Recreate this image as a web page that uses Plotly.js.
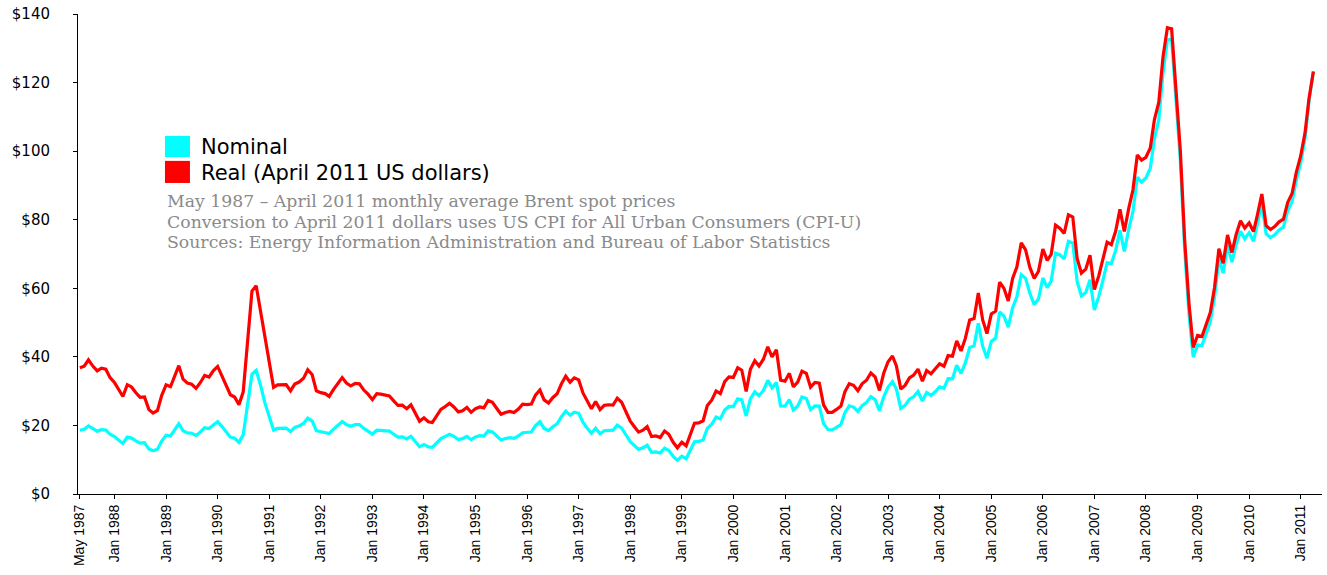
<!DOCTYPE html>
<html>
<head>
<meta charset="utf-8">
<script src="https://cdn.plot.ly/plotly-3.0.1.min.js"></script>
<style>
html,body{margin:0;padding:0;background:#fff;}
#chart{width:1327px;height:575px;}
</style>
</head>
<body>
<div id="chart"></div>
<script>
// Monthly average Brent spot price, May 1987 – April 2011 (nominal US$/bbl)
var startYear = 1987, startMonth = 5;
var nominal = [
 18.58,18.86,19.86,18.98,18.31,18.76,18.67,17.42,
 16.75,15.70,14.73,16.60,16.31,15.49,14.85,14.99,13.11,12.62,13.04,15.42,
 17.15,16.92,18.74,20.48,18.43,17.84,17.71,17.07,18.08,19.30,19.09,20.14,
 21.08,19.66,18.32,16.59,16.26,15.06,17.25,26.85,34.92,36.07,31.72,26.65,
 22.85,18.66,19.12,19.22,19.23,18.21,19.41,19.84,20.58,22.13,21.35,18.46,
 18.16,18.05,17.63,18.92,19.89,21.16,20.23,19.74,20.27,20.26,19.14,18.37,
 17.45,18.63,18.60,18.54,18.36,17.44,16.58,16.67,16.06,16.84,15.19,13.76,
 14.45,13.74,13.63,15.05,16.17,16.79,17.44,16.83,15.91,16.15,16.81,15.85,
 16.64,17.03,16.91,18.42,18.11,16.91,15.77,16.16,16.41,16.25,16.93,17.87,
 17.89,18.09,19.97,21.07,19.12,18.49,19.61,20.44,22.56,24.18,22.99,23.88,
 23.54,20.86,19.26,17.71,19.19,17.56,18.45,18.61,18.61,20.09,19.21,17.28,
 15.26,14.08,13.02,13.45,14.25,12.14,12.28,11.95,13.38,12.72,10.99,9.82,
 11.04,10.28,12.51,15.26,15.32,15.78,19.12,20.34,22.44,21.92,24.51,25.53,
 25.51,27.78,27.49,22.76,27.74,29.80,28.68,30.20,33.14,30.96,32.55,25.66,
 25.62,27.50,24.50,25.66,28.31,27.85,24.61,25.68,25.62,20.54,18.80,18.71,
 19.42,20.28,23.70,25.73,25.35,24.08,25.74,26.65,28.40,27.54,24.34,28.33,
 31.18,32.77,30.61,25.00,25.86,27.65,28.35,29.89,27.11,29.61,28.75,29.81,
 31.28,30.86,33.63,33.59,37.57,35.18,38.22,42.74,43.20,49.78,43.11,39.60,
 44.51,45.48,53.10,51.88,48.65,54.35,57.52,63.98,62.91,58.54,55.24,56.86,
 62.99,60.21,62.06,70.26,69.78,68.56,73.67,73.23,61.96,57.81,58.76,62.47,
 53.68,57.56,62.05,67.49,67.21,71.05,76.93,70.76,77.17,82.34,92.41,90.93,
 92.18,94.99,103.64,109.07,122.80,132.32,132.72,113.24,97.23,71.58,52.45,39.95,
 43.44,43.32,46.54,50.18,57.30,68.61,64.44,72.51,67.65,72.77,76.66,74.46,
 76.17,73.75,78.83,84.82,75.95,74.76,75.58,77.04,77.84,82.67,85.28,91.45,
 96.52,103.72,114.64,123.26
];
// Same prices in April 2011 US dollars
var real = [
 36.82,37.27,39.15,37.31,35.90,36.69,36.39,33.95,
 32.56,30.44,28.44,31.88,31.22,29.52,28.18,28.33,24.61,23.61,24.38,28.78,
 31.85,31.29,34.46,37.42,33.48,32.33,32.02,30.81,32.53,34.56,34.10,35.92,
 37.21,34.54,32.01,28.95,28.30,26.07,29.75,45.89,59.18,60.76,53.32,44.80,
 38.18,31.13,31.85,31.97,31.89,30.11,32.05,32.66,33.73,36.22,34.85,30.11,
 29.57,29.29,28.46,30.50,32.02,33.94,32.38,31.51,32.26,32.13,30.31,29.11,
 27.52,29.28,29.13,28.96,28.63,27.16,25.82,25.89,24.89,25.99,23.43,21.22,
 22.23,21.06,20.83,22.96,24.65,25.51,26.43,25.40,23.95,24.29,25.25,23.81,
 24.90,25.38,25.12,27.27,26.76,24.94,23.26,23.77,24.09,23.78,24.79,26.18,
 26.06,26.26,28.85,30.32,27.46,26.54,28.09,29.22,32.15,34.35,32.60,33.86,
 33.28,29.39,27.07,24.86,26.96,24.64,25.85,26.03,25.96,27.96,26.75,24.09,
 21.24,19.56,18.05,18.61,19.68,16.75,16.92,16.45,18.39,17.44,15.07,13.48,
 15.11,14.05,17.05,20.65,20.73,21.35,25.79,27.38,30.06,29.31,32.75,34.12,
 33.99,36.79,36.11,29.88,36.38,38.87,37.33,39.31,42.91,40.02,42.05,33.17,
 32.91,35.18,31.27,32.62,35.83,35.19,31.18,32.54,32.31,26.00,23.83,23.81,
 24.66,25.65,29.81,32.18,31.71,30.10,32.14,33.17,35.29,34.16,30.19,35.22,
 38.59,40.25,37.37,30.59,31.69,33.85,34.67,36.42,32.92,36.00,35.05,36.38,
 37.99,37.27,40.36,40.18,44.68,41.71,45.38,50.72,51.16,58.65,50.76,46.80,
 52.49,53.33,61.78,59.96,56.28,62.85,66.21,73.26,71.17,66.09,62.87,64.98,
 71.44,68.15,69.86,78.42,77.50,75.99,81.42,80.77,68.68,64.43,65.58,69.62,
 59.65,63.62,67.94,73.44,72.71,76.68,83.06,76.55,83.24,88.65,98.87,97.39,
 98.21,100.92,109.17,114.20,127.50,136.01,135.68,116.24,99.94,74.32,55.54,42.74,
 46.28,45.91,49.21,52.94,60.25,71.54,67.28,75.57,70.44,75.70,79.71,77.56,
 79.05,76.54,81.47,87.51,78.28,77.13,77.98,79.37,80.16,85.01,87.66,93.83,
 98.58,105.41,115.36,123.26
];
var yTickVals = [0,20,40,60,80,100,120,140];
var yTickText = ["$0","$20","$40","$60","$80","$100","$120","$140"];
var xTickText = ["May 1987","Jan 1988","Jan 1989","Jan 1990","Jan 1991","Jan 1992","Jan 1993",
 "Jan 1994","Jan 1995","Jan 1996","Jan 1997","Jan 1998","Jan 1999","Jan 2000","Jan 2001",
 "Jan 2002","Jan 2003","Jan 2004","Jan 2005","Jan 2006","Jan 2007","Jan 2008","Jan 2009",
 "Jan 2010","Jan 2011"];
var seriesNames = ["Nominal","Real (April 2011 US dollars)"];
var noteLines = [
 "May 1987 – April 2011 monthly average Brent spot prices",
 "Conversion to April 2011 dollars uses US CPI for All Urban Consumers (CPI-U)",
 "Sources: Energy Information Administration and Bureau of Labor Statistics"
];

function pad(n){return (n<10?"0":"")+n;}
var months = [];
for (var i=0;i<nominal.length;i++){
  var m0 = startMonth-1+i;
  var y = startYear + Math.floor(m0/12);
  var m = (m0%12)+1;
  months.push(y+"-"+pad(m)+"-01");
}
var xTickVals = [months[0]];
for (var yy=1988; yy<=2011; yy++) xTickVals.push(yy+"-01-01");

var cyan = "#00FFFF", red = "#FF0000";
var traces = [
  {x: months, y: nominal, type: "scatter", mode: "lines", name: seriesNames[0],
   line: {color: cyan, width: 3.2}, showlegend: false, hoverinfo: "x+y"},
  {x: months, y: real, type: "scatter", mode: "lines", name: seriesNames[1],
   line: {color: red, width: 3.2}, showlegend: false, hoverinfo: "x+y"}
];

var layout = {
  width: 1327, height: 575,
  margin: {l: 78, r: 5, t: 14, b: 81, pad: 0},
  paper_bgcolor: "#fff", plot_bgcolor: "#fff",
  showlegend: false,
  xaxis: {
    type: "date",
    range: ["1987-04-18", "2011-06-01"],
    tickmode: "array", tickvals: xTickVals, ticktext: xTickText,
    tickangle: -90,
    ticks: "outside", ticklen: 4, tickcolor: "#000", tickwidth: 1,
    showline: true, linecolor: "#000", linewidth: 1,
    showgrid: false, zeroline: false,
    tickfont: {family: "Liberation Sans, Arial, sans-serif", size: 14, color: "#000"}
  },
  yaxis: {
    range: [0, 140],
    tickmode: "array", tickvals: yTickVals, ticktext: yTickText,
    ticks: "outside", ticklen: 4, tickcolor: "#000", tickwidth: 1,
    ticklabelstandoff: 20,
    showline: true, linecolor: "#000", linewidth: 1,
    showgrid: false, zeroline: false,
    tickfont: {family: "DejaVu Sans, sans-serif", size: 15, color: "#000"}
  },
  shapes: [
    {type: "rect", xref: "paper", yref: "paper", x0: 0.0699, x1: 0.0900, y0: 0.702, y1: 0.746,
     fillcolor: cyan, line: {width: 0}},
    {type: "rect", xref: "paper", yref: "paper", x0: 0.0699, x1: 0.0900, y0: 0.648, y1: 0.694,
     fillcolor: red, line: {width: 0}}
  ],
  annotations: [
    {xref: "paper", yref: "paper", x: 0.097, y: 0.723, xanchor: "left", yanchor: "middle",
     align: "left", text: seriesNames[0], showarrow: false,
     font: {family: "DejaVu Sans, sans-serif", size: 21, color: "#000"}},
    {xref: "paper", yref: "paper", x: 0.097, y: 0.669, xanchor: "left", yanchor: "middle",
     align: "left", text: seriesNames[1], showarrow: false,
     font: {family: "DejaVu Sans, sans-serif", size: 21, color: "#000"}}
  ]
};
var noteY = [0.610, 0.567, 0.525];
for (var k=0;k<noteLines.length;k++){
  layout.annotations.push({xref: "paper", yref: "paper", x: 0.0699, y: noteY[k],
    xanchor: "left", yanchor: "middle", align: "left", text: noteLines[k], showarrow: false,
    font: {family: "DejaVu Serif, serif", size: 17.3, color: "#8a8a8a"}});
}

Plotly.newPlot("chart", traces, layout, {displayModeBar: false, staticPlot: true});
</script>
</body>
</html>
